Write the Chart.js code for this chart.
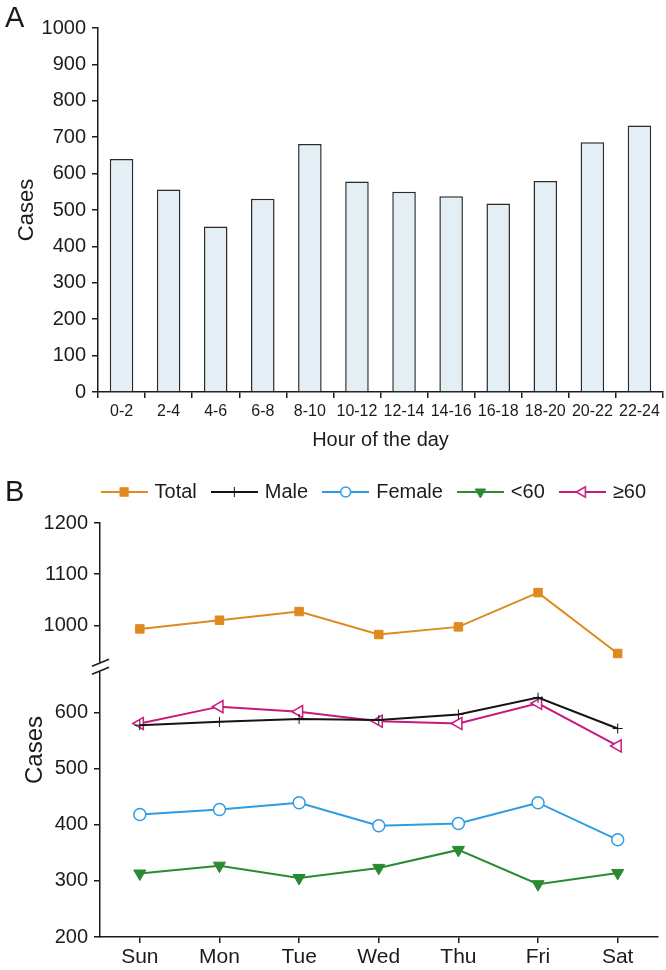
<!DOCTYPE html>
<html>
<head>
<meta charset="utf-8">
<title>Cases by hour and weekday</title>
<script src="https://cdn.jsdelivr.net/npm/chart.js@4.4.1/dist/chart.umd.min.js"></script>
<style>
    html, body { margin: 0; padding: 0; background: #fff; }
    #wrap { position: relative; width: 666px; height: 970px; font-family: 'Liberation Sans', Arial, sans-serif; color: #1a1a1a; }
    .panel { position: absolute; left: 5px; font-size: 29px; line-height: 1; }
    #boxA { position: absolute; left: 0; top: 0; width: 666px; height: 460px; }
    #boxB { position: absolute; left: 0; top: 460px; width: 666px; height: 510px; }
</style>
</head>
<body>
<div id="wrap">
    <div id="boxA"><canvas id="chartA"></canvas></div>
    <div id="boxB"><canvas id="chartB"></canvas></div>
    <div class="panel" style="top:3px">A</div>
    <div class="panel" style="top:477px">B</div>
</div>
<script>
// panel A - cases per 2 hour slot
var hourLabels = ['0-2', '2-4', '4-6', '6-8', '8-10', '10-12', '12-14', '14-16', '16-18', '18-20', '20-22', '22-24'];
var hourCases = [640, 556, 455, 531, 681, 578, 550, 538, 518, 580, 686, 732];

// panel B - cases per weekday
var dayLabels = ['Sun', 'Mon', 'Tue', 'Wed', 'Thu', 'Fri', 'Sat'];
var totalCases = [993, 1010, 1027, 982, 997, 1064, 945];
var maleCases = [577, 583, 588, 586, 596, 626, 571];
var femaleCases = [418, 427, 439, 398, 402, 439, 373];
var under60Cases = [313, 327, 305, 323, 355, 294, 314];
var over60Cases = [580, 610, 601, 584, 580, 616, 540];

(function () {
    'use strict';

    var ink = '#1c1c1c';
    var fontFamily = "'Liberation Sans', Arial, sans-serif";
    Chart.defaults.font.family = fontFamily;
    Chart.defaults.color = ink;

    var colors = {
        total: '#de8a1e',
        male: '#141414',
        female: '#2e9ce2',
        under60: '#2a8a33',
        over60: '#c8197d'
    };

    function keepHundreds(scale) {
        scale.ticks = scale.ticks.filter(function (t) { return t.value % 100 === 0; });
    }

    function plainNumber(v) {
        return String(v);
    }

    function axisGrid() {
        return { display: true, drawOnChartArea: false, drawTicks: true, tickLength: 6, color: ink, lineWidth: 1.5 };
    }

    // ---------- A ----------
    new Chart(document.getElementById('chartA'), {
        type: 'bar',
        data: {
            labels: hourLabels,
            datasets: [{
                data: hourCases,
                backgroundColor: '#e3eff5',
                borderColor: '#2a2a2a',
                borderWidth: 1.5,
                barPercentage: 0.5,
                categoryPercentage: 1
            }]
        },
        options: {
            responsive: true,
            maintainAspectRatio: false,
            animation: false,
            layout: { padding: { top: 28, right: 3, left: 0, bottom: 0 } },
            plugins: { legend: { display: false }, tooltip: { enabled: false } },
            scales: {
                x: {
                    grid: axisGrid(),
                    border: { display: true, color: ink, width: 1.5 },
                    ticks: { color: ink, font: { size: 16 }, padding: 4, maxRotation: 0, autoSkip: false },
                    title: { display: true, text: 'Hour of the day', color: ink, font: { size: 20 }, padding: { top: 0, bottom: 8 } },
                    afterFit: function (s) { s.height = 68; }
                },
                y: {
                    min: 0,
                    max: 1000,
                    grid: axisGrid(),
                    border: { display: true, color: ink, width: 1.5 },
                    ticks: { stepSize: 100, color: ink, font: { size: 20 }, padding: 6, callback: plainNumber },
                    title: { display: true, text: 'Cases', color: ink, font: { size: 22 }, padding: { top: 14, bottom: 0 } },
                    afterFit: function (s) { s.width = 98; }
                }
            }
        }
    });

    // ---------- B ----------
    // little line + marker picture for each legend entry
    function legendIcon(color, style, radius, rotation, fill, bw) {
        var c = document.createElement('canvas');
        c.width = 47;
        c.height = 18;
        var ctx = c.getContext('2d');
        ctx.strokeStyle = color;
        ctx.lineWidth = 2;
        ctx.beginPath();
        ctx.moveTo(0, 9);
        ctx.lineTo(47, 9);
        ctx.stroke();
        ctx.fillStyle = fill;
        ctx.lineWidth = bw;
        Chart.helpers.drawPoint(ctx, { pointStyle: style, radius: radius, rotation: rotation, borderWidth: bw }, 23.5, 9);
        return c;
    }

    var icons = [
        legendIcon(colors.total, 'rect', 6, 0, colors.total, 1),
        legendIcon(colors.male, 'cross', 5, 0, colors.male, 1),
        legendIcon(colors.female, 'circle', 5, 0, '#fff', 1.5),
        legendIcon(colors.under60, 'triangle', 6, 180, colors.under60, 1),
        legendIcon(colors.over60, 'triangle', 6, 270, '#fff', 1.5)
    ];

    function lineSet(label, data, color, style, radius, rotation, fill, axis, bw) {
        return {
            label: label,
            data: data,
            yAxisID: axis,
            borderColor: color,
            backgroundColor: fill,
            borderWidth: 2,
            tension: 0,
            pointStyle: style,
            pointRadius: radius,
            pointRotation: rotation,
            pointBackgroundColor: fill,
            pointBorderColor: color,
            pointBorderWidth: bw
        };
    }

    var axisBreak = {
        id: 'axisBreak',
        beforeInit: function (chart) {
            var fit = chart.legend.fit;
            chart.legend.fit = function () {
                fit.bind(chart.legend)();
                this.height += 11;
            };
        },
        afterDraw: function (chart) {
            var ctx = chart.ctx;
            var bot = chart.scales.yBot;
            var x = bot.right;
            var y = bot.top;
            ctx.save();
            ctx.fillStyle = '#fff';
            ctx.fillRect(x - 4, y - 5, 8, 9);
            ctx.strokeStyle = ink;
            ctx.lineWidth = 1.6;
            ctx.beginPath();
            ctx.moveTo(x - 8, y - 1);
            ctx.lineTo(x + 9, y - 8);
            ctx.moveTo(x - 8, y + 7);
            ctx.lineTo(x + 9, y);
            ctx.stroke();
            // one title for both stacked axes
            ctx.translate(35, (chart.chartArea.top + chart.chartArea.bottom) / 2 + 20);
            ctx.rotate(-Math.PI / 2);
            ctx.fillStyle = ink;
            ctx.font = '24px ' + fontFamily;
            ctx.textAlign = 'center';
            ctx.textBaseline = 'middle';
            ctx.fillText('Cases', 0, 0);
            ctx.restore();
        }
    };

    new Chart(document.getElementById('chartB'), {
        type: 'line',
        data: {
            labels: dayLabels,
            datasets: [
                lineSet('Total', totalCases, colors.total, 'rect', 6, 0, colors.total, 'yTop', 1),
                lineSet('Male', maleCases, colors.male, 'cross', 5, 0, colors.male, 'yBot', 1),
                lineSet('Female', femaleCases, colors.female, 'circle', 6, 0, '#fff', 'yBot', 1.5),
                lineSet('<60', under60Cases, colors.under60, 'triangle', 7, 180, colors.under60, 'yBot', 1),
                lineSet('\u226560', over60Cases, colors.over60, 'triangle', 7, 270, '#fff', 'yBot', 1.5)
            ]
        },
        options: {
            responsive: true,
            maintainAspectRatio: false,
            animation: false,
            layout: { padding: { top: 5, right: 3, left: 0, bottom: 0 } },
            plugins: {
                tooltip: { enabled: false },
                legend: {
                    align: 'end',
                    labels: {
                        usePointStyle: true,
                        pointStyleWidth: 41,
                        padding: 17,
                        color: ink,
                        font: { size: 20 },
                        generateLabels: function (chart) {
                            var items = Chart.defaults.plugins.legend.labels.generateLabels(chart);
                            items.forEach(function (it, i) {
                                it.pointStyle = icons[i];
                                it.rotation = 0;
                            });
                            return items;
                        }
                    }
                }
            },
            scales: {
                x: {
                    offset: true,
                    grid: axisGrid(),
                    border: { display: true, color: ink, width: 1.5 },
                    ticks: { color: ink, font: { size: 21 }, padding: 2 },
                    afterFit: function (s) { s.height = 33; }
                },
                yBot: {
                    type: 'linear',
                    position: 'left',
                    stack: 'cases',
                    stackWeight: 271,
                    min: 200,
                    max: 680,
                    afterBuildTicks: keepHundreds,
                    grid: axisGrid(),
                    border: { display: true, color: ink, width: 1.5 },
                    ticks: { stepSize: 100, color: ink, font: { size: 20 }, padding: 6, callback: plainNumber },
                    afterFit: function (s) { s.width = 100; }
                },
                yTop: {
                    type: 'linear',
                    position: 'left',
                    stack: 'cases',
                    stackWeight: 145,
                    min: 918,
                    max: 1200,
                    afterBuildTicks: keepHundreds,
                    grid: axisGrid(),
                    border: { display: true, color: ink, width: 1.5 },
                    ticks: { stepSize: 100, color: ink, font: { size: 20 }, padding: 6, callback: plainNumber },
                    afterFit: function (s) { s.width = 100; }
                }
            }
        },
        plugins: [axisBreak]
    });
})();
</script>
</body>
</html>
